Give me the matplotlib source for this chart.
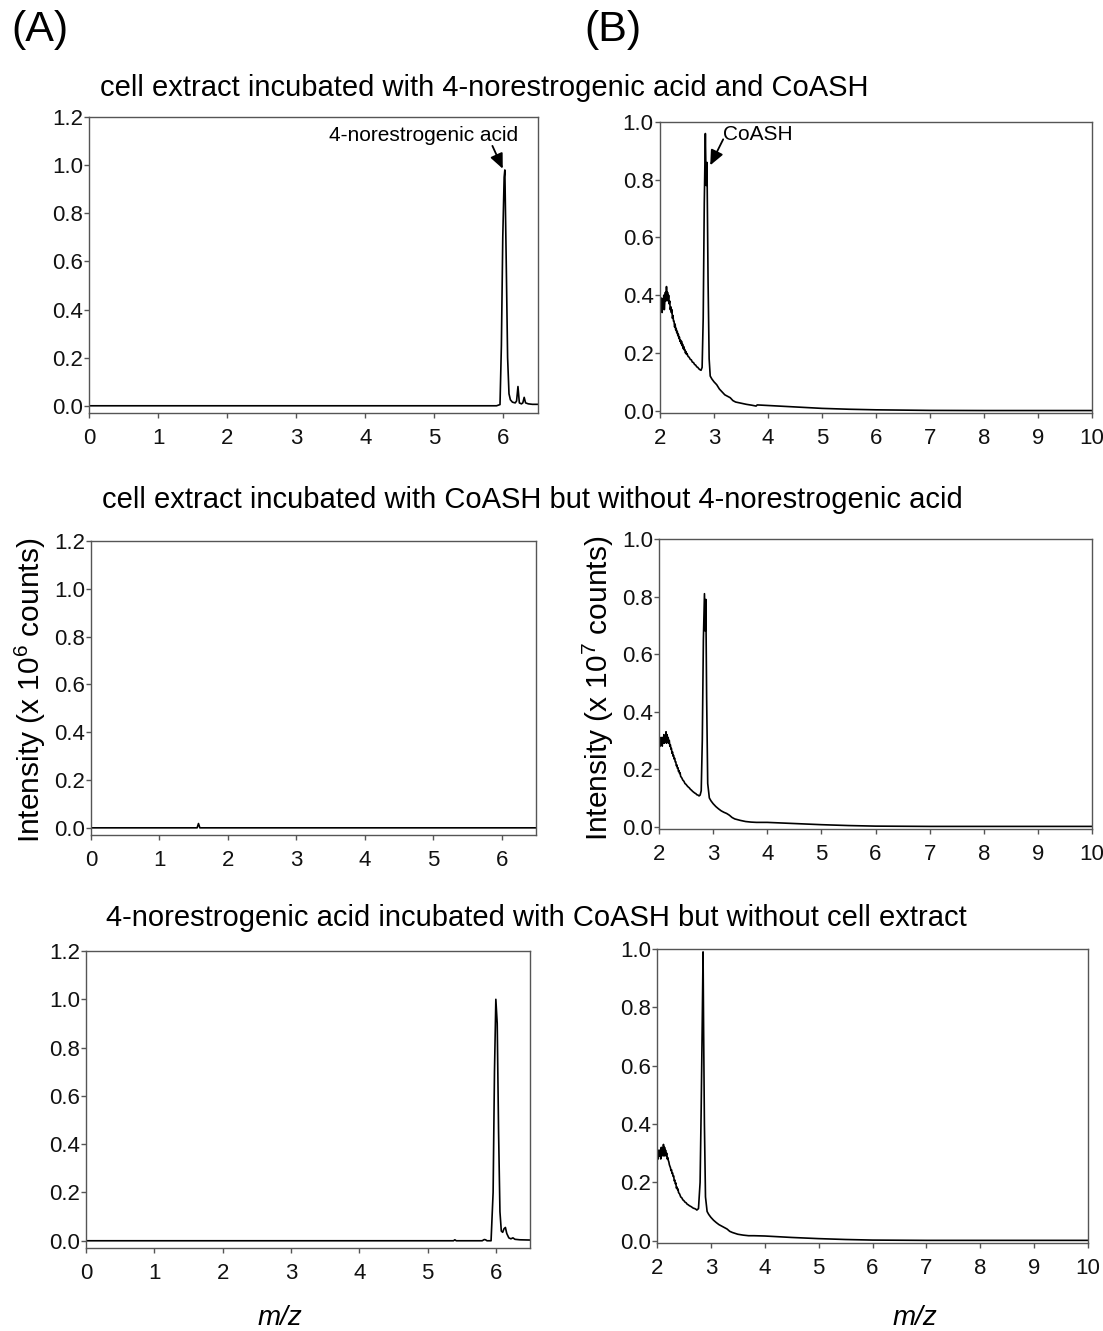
import matplotlib
matplotlib.use("Agg")
import matplotlib.pyplot as plt

plt.rcParams['font.family'] = ['Liberation Sans', 'DejaVu Sans']
plt.rcParams['mathtext.fontset'] = 'custom'
plt.rcParams['mathtext.rm'] = 'Liberation Sans'
plt.rcParams['mathtext.it'] = 'Liberation Sans:italic'
plt.rcParams['mathtext.default'] = 'regular'

# ---------------- data ----------------
titles = [
    "cell extract incubated with 4-norestrogenic acid and CoASH",
    "cell extract incubated with CoASH but without 4-norestrogenic acid",
    "4-norestrogenic acid incubated with CoASH but without cell extract",
]

a_xticks = [0, 1, 2, 3, 4, 5, 6]
a_yticks = [0.0, 0.2, 0.4, 0.6, 0.8, 1.0, 1.2]
b_xticks = [2, 3, 4, 5, 6, 7, 8, 9, 10]
b_yticks = [0.0, 0.2, 0.4, 0.6, 0.8, 1.0]

# Column A traces
a1_x = [0, 5.90, 5.95, 5.97, 5.99, 6.01, 6.02, 6.04, 6.06, 6.08, 6.10, 6.13, 6.17,
        6.19, 6.21, 6.23, 6.26, 6.28, 6.30, 6.32, 6.36, 6.42, 6.5]
a1_y = [0, 0, 0.005, 0.25, 0.7, 0.95, 0.98, 0.6, 0.2, 0.05, 0.025, 0.015, 0.012,
        0.02, 0.08, 0.012, 0.008, 0.012, 0.035, 0.012, 0.008, 0.006, 0.006]

a2_x = [0, 1.55, 1.57, 1.59, 6.5]
a2_y = [0, 0, 0.018, 0, 0]

a3_x = [0, 5.38, 5.40, 5.42, 5.80, 5.83, 5.85, 5.87, 5.93, 5.96, 5.98, 6.00, 6.02,
        6.04, 6.06, 6.08, 6.10, 6.12, 6.14, 6.16, 6.19, 6.22, 6.25, 6.28, 6.35, 6.5]
a3_y = [0, 0, 0.004, 0, 0, 0.005, 0.004, 0, 0, 0.2, 0.7, 1.0, 0.9,
        0.45, 0.12, 0.04, 0.035, 0.05, 0.055, 0.03, 0.012, 0.008, 0.012, 0.006, 0.004, 0.003]

# Column B traces
b1_x = [2.00, 2.01, 2.02, 2.03, 2.04, 2.05, 2.06, 2.07, 2.08, 2.09, 2.10, 2.11, 2.12,
        2.13, 2.14, 2.15, 2.16, 2.17, 2.18, 2.19, 2.20, 2.21, 2.22, 2.23, 2.24, 2.25,
        2.26, 2.27, 2.28, 2.29, 2.30, 2.31, 2.32, 2.33, 2.34, 2.35, 2.36, 2.37, 2.38,
        2.39, 2.40, 2.41, 2.42, 2.43, 2.44, 2.45, 2.46, 2.47, 2.48, 2.49, 2.50, 2.52,
        2.54, 2.56, 2.58, 2.60, 2.62, 2.64, 2.66, 2.68, 2.70, 2.72, 2.74, 2.76, 2.78,
        2.80, 2.82, 2.84, 2.855, 2.87, 2.89, 2.91, 2.93, 2.96, 3.00, 3.05, 3.10, 3.15,
        3.20, 3.25, 3.30, 3.35, 3.40, 3.50, 3.60, 3.70, 3.78, 3.80, 4.00, 4.50, 5.00,
        5.50, 6.00, 7.00, 8.00, 10.0]
b1_y = [0.33, 0.38, 0.35, 0.39, 0.34, 0.37, 0.36, 0.40, 0.35, 0.38, 0.41, 0.38, 0.43,
        0.39, 0.41, 0.38, 0.40, 0.37, 0.38, 0.35, 0.36, 0.34, 0.35, 0.32, 0.33, 0.31,
        0.31, 0.29, 0.30, 0.28, 0.285, 0.27, 0.275, 0.26, 0.265, 0.25, 0.255, 0.24, 0.245,
        0.232, 0.24, 0.225, 0.23, 0.215, 0.222, 0.21, 0.212, 0.20, 0.205, 0.195, 0.198, 0.188,
        0.185, 0.178, 0.176, 0.168, 0.167, 0.16, 0.158, 0.152, 0.15, 0.145, 0.142, 0.14, 0.15,
        0.32, 0.72, 0.96, 0.78, 0.86, 0.45, 0.18, 0.12, 0.11, 0.10, 0.09, 0.075, 0.065,
        0.055, 0.05, 0.045, 0.035, 0.03, 0.026, 0.022, 0.019, 0.016, 0.02, 0.018, 0.013, 0.008,
        0.005, 0.003, 0.001, 0.0005, 0.0005]

b2_x = [2.00, 2.01, 2.02, 2.03, 2.04, 2.05, 2.06, 2.07, 2.08, 2.09, 2.10, 2.11, 2.12,
        2.13, 2.14, 2.15, 2.16, 2.17, 2.18, 2.19, 2.20, 2.21, 2.22, 2.23, 2.24, 2.25,
        2.26, 2.27, 2.28, 2.29, 2.30, 2.31, 2.32, 2.33, 2.34, 2.35, 2.36, 2.37, 2.38,
        2.39, 2.40, 2.42, 2.44, 2.46, 2.48, 2.50, 2.52, 2.54, 2.56, 2.58, 2.60, 2.62,
        2.64, 2.66, 2.68, 2.70, 2.72, 2.74, 2.76, 2.78, 2.80, 2.82, 2.84, 2.855, 2.865,
        2.88, 2.90, 2.93, 2.96, 3.00, 3.05, 3.10, 3.15, 3.20, 3.25, 3.30, 3.35, 3.40,
        3.50, 3.60, 3.70, 3.80, 4.00, 4.50, 5.00, 5.50, 6.00, 7.00, 10.0]
b2_y = [0.26, 0.30, 0.28, 0.31, 0.29, 0.31, 0.28, 0.31, 0.29, 0.32, 0.29, 0.31, 0.30,
        0.33, 0.29, 0.32, 0.30, 0.31, 0.29, 0.30, 0.28, 0.285, 0.27, 0.272, 0.255, 0.26,
        0.245, 0.248, 0.235, 0.238, 0.225, 0.226, 0.212, 0.215, 0.203, 0.205, 0.192, 0.195,
        0.185, 0.187, 0.175, 0.17, 0.162, 0.158, 0.15, 0.147, 0.142, 0.138, 0.135, 0.13,
        0.127, 0.123, 0.12, 0.117, 0.115, 0.111, 0.11, 0.107, 0.11, 0.125, 0.30, 0.65, 0.81,
        0.68, 0.79, 0.45, 0.15, 0.10, 0.09, 0.08, 0.07, 0.062, 0.055, 0.05, 0.046, 0.04,
        0.032, 0.027, 0.022, 0.018, 0.016, 0.015, 0.015, 0.011, 0.007, 0.004, 0.002, 0.001,
        0.001]

b3_x = [2.00, 2.01, 2.02, 2.03, 2.04, 2.05, 2.06, 2.07, 2.08, 2.09, 2.10, 2.11, 2.12,
        2.13, 2.14, 2.15, 2.16, 2.17, 2.18, 2.19, 2.20, 2.21, 2.22, 2.23, 2.24, 2.25,
        2.26, 2.27, 2.28, 2.29, 2.30, 2.31, 2.32, 2.33, 2.34, 2.35, 2.36, 2.37, 2.38,
        2.39, 2.40, 2.42, 2.44, 2.46, 2.48, 2.50, 2.52, 2.54, 2.56, 2.58, 2.60, 2.62,
        2.64, 2.66, 2.68, 2.70, 2.72, 2.74, 2.77, 2.80, 2.82, 2.84, 2.855, 2.865, 2.88,
        2.90, 2.93, 2.96, 3.00, 3.05, 3.10, 3.15, 3.20, 3.25, 3.30, 3.35, 3.40, 3.50,
        3.60, 3.70, 3.80, 4.00, 4.50, 5.00, 5.50, 6.00, 7.00, 10.0]
b3_y = [0.26, 0.30, 0.28, 0.31, 0.29, 0.31, 0.30, 0.28, 0.32, 0.29, 0.31, 0.30, 0.33,
        0.29, 0.32, 0.30, 0.31, 0.29, 0.30, 0.28, 0.285, 0.275, 0.27, 0.26, 0.255, 0.25,
        0.24, 0.243, 0.23, 0.232, 0.22, 0.222, 0.205, 0.208, 0.195, 0.198, 0.18, 0.184,
        0.175, 0.177, 0.165, 0.16, 0.15, 0.147, 0.14, 0.137, 0.132, 0.13, 0.125, 0.123,
        0.12, 0.118, 0.116, 0.113, 0.111, 0.11, 0.108, 0.105, 0.11, 0.20, 0.45, 0.75, 0.99,
        0.73, 0.40, 0.15, 0.10, 0.09, 0.08, 0.07, 0.062, 0.055, 0.05, 0.045, 0.04, 0.032,
        0.028, 0.022, 0.019, 0.017, 0.017, 0.016, 0.011, 0.007, 0.004, 0.002, 0.001, 0.001]

# ---------------- layout ----------------
W, H = 1103, 1331
fig = plt.figure(figsize=(W / 100, H / 100), dpi=100)

def box(l, t, r, b):
    return [l / W, 1 - b / H, (r - l) / W, (b - t) / H]

SP = '#555555'

def style(ax, xlim, ylim, xticks, yticks, yfmt):
    ax.set_xlim(*xlim)
    ax.set_ylim(*ylim)
    ax.set_xticks(xticks)
    ax.set_yticks(yticks)
    ax.set_yticklabels([yfmt.format(v) for v in yticks])
    for s in ax.spines.values():
        s.set_color(SP)
        s.set_linewidth(1.0)
    ax.tick_params(direction='out', length=3.5, width=1.0, color=SP,
                   labelsize=16, labelcolor='#111111')
    ax.tick_params(axis='x', pad=7)
    ax.tick_params(axis='y', pad=1)

ax_a1 = fig.add_axes(box(89, 117, 538, 413))
ax_b1 = fig.add_axes(box(660, 122, 1092, 413))
ax_a2 = fig.add_axes(box(91, 541, 536, 835))
ax_b2 = fig.add_axes(box(659, 539, 1092, 829))
ax_a3 = fig.add_axes(box(86, 951, 530, 1248))
ax_b3 = fig.add_axes(box(657, 949, 1088, 1243))

lw = 1.2
for ax, xs, ys in [(ax_a1, a1_x, a1_y), (ax_a2, a2_x, a2_y), (ax_a3, a3_x, a3_y)]:
    ax.plot(xs, ys, color='black', lw=lw)
    style(ax, (0, 6.5), (-0.03, 1.2), a_xticks, a_yticks, "{:.1f}")

for ax, xs, ys in [(ax_b1, b1_x, b1_y), (ax_b2, b2_x, b2_y), (ax_b3, b3_x, b3_y)]:
    ax.plot(xs, ys, color='black', lw=lw)
    style(ax, (2, 10), (-0.008, 1.0), b_xticks, b_yticks, "{:.1f}")

# annotations
arrow = dict(arrowstyle='-|>,head_length=0.9,head_width=0.4',
             color='black', lw=1.3, shrinkA=0, shrinkB=0)
ax_a1.text(4.84, 1.125, "4-norestrogenic acid", ha='center', va='center', fontsize=15)
ax_a1.annotate("", xy=(5.99, 0.985), xytext=(5.84, 1.08), arrowprops=arrow)
ax_b1.text(3.17, 0.955, "CoASH", ha='left', va='center', fontsize=15)
ax_b1.annotate("", xy=(2.93, 0.85), xytext=(3.17, 0.94), arrowprops=arrow)

# titles and labels
fig.text(484 / W, 1 - 88 / H, titles[0], ha='center', va='center', fontsize=21)
fig.text(532 / W, 1 - 500 / H, titles[1], ha='center', va='center', fontsize=21)
fig.text(536 / W, 1 - 918 / H, titles[2], ha='center', va='center', fontsize=21)

fig.text(40 / W, 1 - 30 / H, "(A)", ha='center', va='center', fontsize=31)
fig.text(613 / W, 1 - 30 / H, "(B)", ha='center', va='center', fontsize=31)

fig.text(30 / W, 1 - 690 / H, "Intensity (x 10$^{6}$ counts)", rotation=90,
         ha='center', va='center', fontsize=21.5)
fig.text(598 / W, 1 - 688 / H, "Intensity (x 10$^{7}$ counts)", rotation=90,
         ha='center', va='center', fontsize=21.5)

fig.text(280 / W, 1 - 1318 / H, "m/z", style='italic', ha='center', va='center', fontsize=20)
fig.text(915 / W, 1 - 1318 / H, "m/z", style='italic', ha='center', va='center', fontsize=20)

fig.savefig("out.png", dpi=100)
